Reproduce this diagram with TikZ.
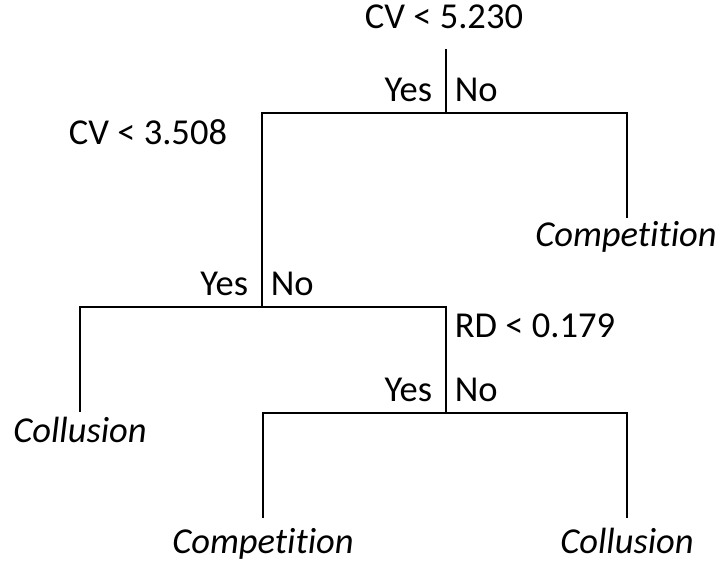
\documentclass[tikz,border=0pt]{standalone}
\usepackage{fontspec}
\setmainfont[Ligatures={NoCommon}]{Carlito}
\usetikzlibrary{positioning}

\begin{document}
\begin{tikzpicture}[x=1pt,y=1pt,line width=1.8pt,line join=miter,
  every node/.style={inner sep=0pt,font=\fontsize{36.5}{44}\selectfont},
  split/.style={anchor=base},
  leaf/.style={anchor=base,font=\fontsize{36.5}{44}\selectfont\itshape}]
  \useasboundingbox (0,0) rectangle (720,565);
  %root split
  \node[split] (cv1) at (444,536) {CV < 5.230};
  \coordinate (top1) at (446,516);
  \coordinate (s1) at (446,452);
  \coordinate (l1) at (262,452);
  \coordinate (r1) at (627,452);
  \node[above left=10pt and 13pt of s1] (yes1) {Yes};
  \node[above right=10pt and 8pt of s1] (no1) {No};
  \coordinate (e1) at (627,347);
  \node[leaf] (comp1) at (626,318) {Competition};
  %second split
  \node[split] (cv2) at (148,420) {CV < 3.508};
  \coordinate (s2) at (262,258);
  \coordinate (l2) at (80,258);
  \coordinate (r2) at (446,258);
  \node[above left=10pt and 13pt of s2] (yes2) {Yes};
  \node[above right=10pt and 8pt of s2] (no2) {No};
  \coordinate (e2) at (80,153);
  \node[leaf] (coll1) at (80,122) {Collusion};
  %third split
  \node[split] (rd3) at (535,227) {RD < 0.179};
  \coordinate (s3) at (446,152);
  \coordinate (l3) at (263,152);
  \coordinate (r3) at (627,152);
  \node[above left=10pt and 13pt of s3] (yes3) {Yes};
  \node[above right=10pt and 8pt of s3] (no3) {No};
  \coordinate (e3) at (263,47);
  \coordinate (e4) at (627,47);
  \node[leaf] (comp2) at (263,12) {Competition};
  \node[leaf] (coll2) at (627,12) {Collusion};
  %branches
  \draw (top1) -- (s1);
  \draw (e1) -- (r1) -- (l1) -- (s2);
  \draw (e2) -- (l2) -- (r2) -- (s3);
  \draw (e3) -- (l3) -- (r3) -- (e4);
\end{tikzpicture}
\end{document}
